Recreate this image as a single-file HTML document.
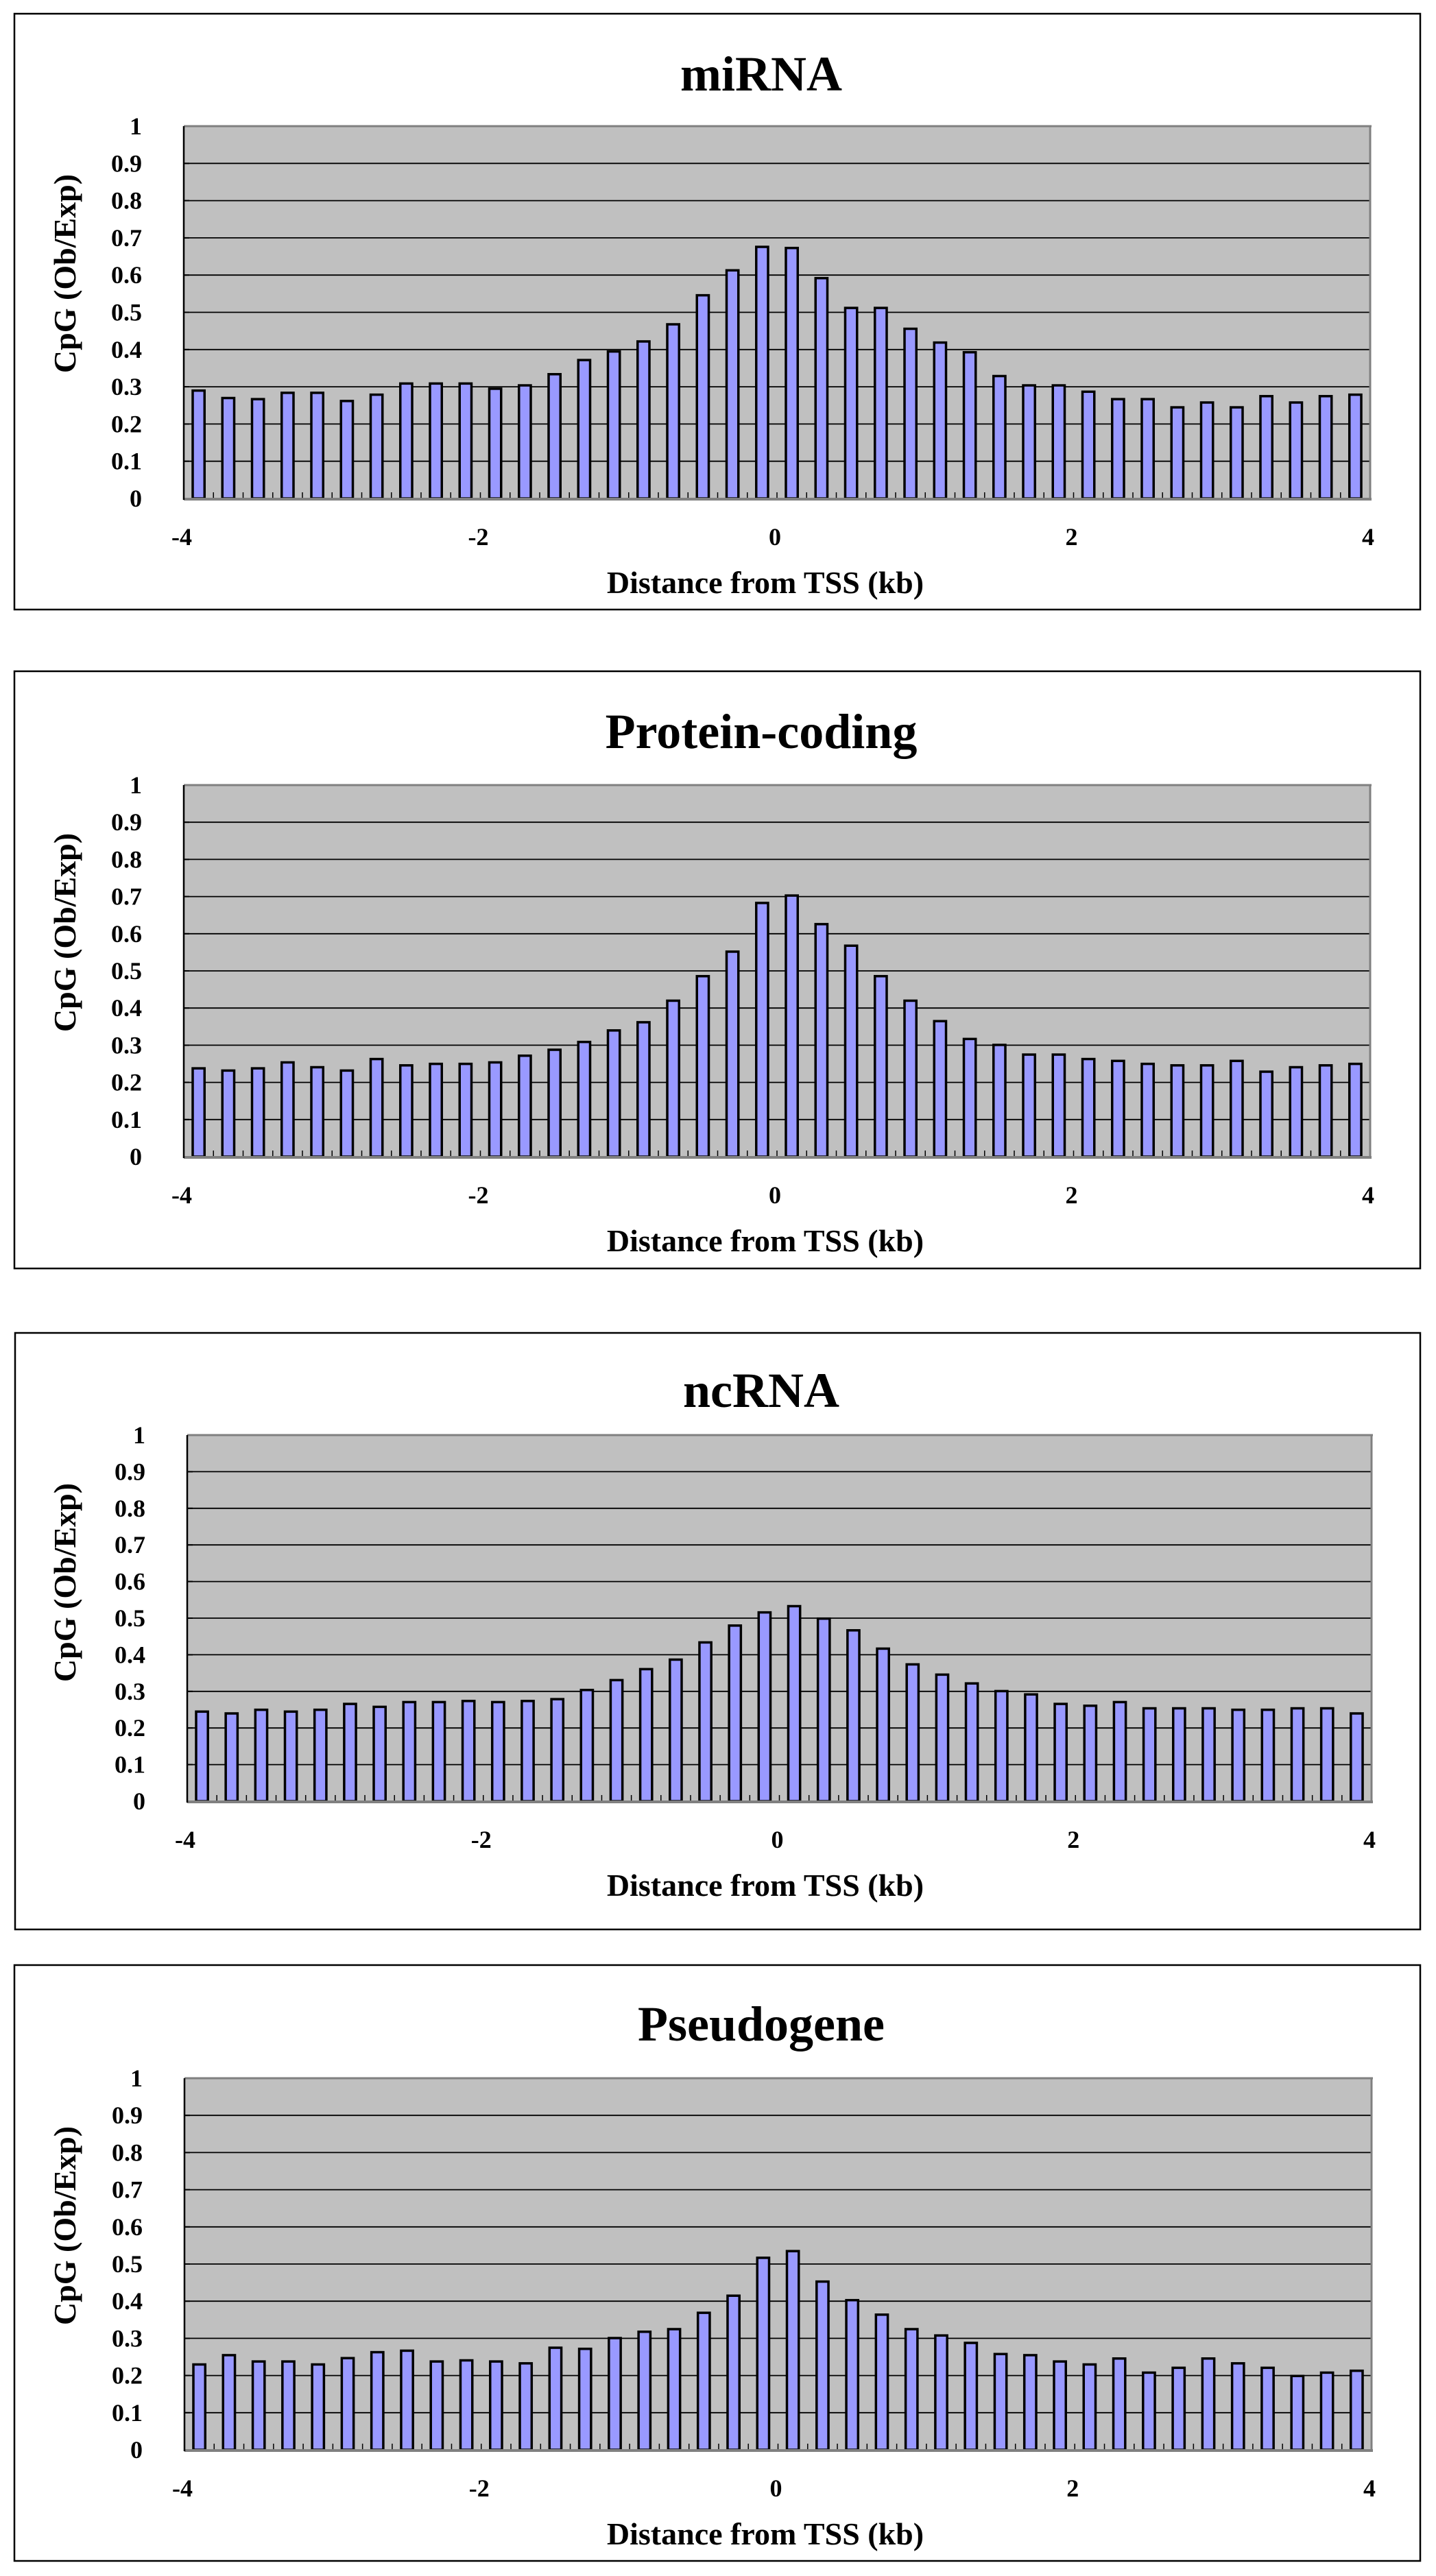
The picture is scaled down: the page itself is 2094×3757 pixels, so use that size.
<!DOCTYPE html>
<html>
<head>
<meta charset="utf-8">
<style>
  html, body { margin: 0; padding: 0; background: #ffffff; }
  svg { display: block; }
  text { font-family: "Liberation Serif", "Times New Roman", serif; font-weight: bold; fill: #000; }
</style>
</head>
<body>
<svg id="chart" xmlns="http://www.w3.org/2000/svg" width="2094" height="3757" viewBox="0 0 2094 3757"></svg>
<script>
// ---- data ----
const panelTitles = ["miRNA", "Protein-coding", "ncRNA", "Pseudogene"];
const xTickLabels = ["-4", "-2", "0", "2", "4"];
const yTickLabels = ["0", "0.1", "0.2", "0.3", "0.4", "0.5", "0.6", "0.7", "0.8", "0.9", "1"];
const mirnaValues = [0.293,0.273,0.270,0.287,0.287,0.265,0.282,0.312,0.312,0.312,0.298,0.307,0.337,0.375,0.398,0.425,0.471,0.549,0.616,0.679,0.676,0.595,0.515,0.515,0.459,0.422,0.396,0.332,0.307,0.307,0.290,0.270,0.270,0.248,0.261,0.248,0.278,0.261,0.278,0.282];
const proteinCodingValues = [0.241,0.235,0.241,0.257,0.244,0.235,0.266,0.249,0.253,0.253,0.257,0.275,0.291,0.312,0.343,0.365,0.423,0.489,0.555,0.686,0.706,0.629,0.571,0.489,0.423,0.368,0.320,0.304,0.278,0.278,0.266,0.261,0.253,0.249,0.249,0.261,0.232,0.244,0.249,0.253];
const ncrnaValues = [0.248,0.243,0.253,0.248,0.253,0.269,0.261,0.274,0.274,0.277,0.274,0.277,0.282,0.307,0.334,0.364,0.390,0.437,0.483,0.519,0.536,0.502,0.470,0.420,0.377,0.349,0.325,0.304,0.295,0.269,0.264,0.274,0.257,0.257,0.257,0.253,0.253,0.257,0.257,0.243];
const pseudogeneValues = [0.233,0.258,0.241,0.241,0.233,0.250,0.266,0.270,0.241,0.244,0.241,0.236,0.278,0.275,0.304,0.321,0.328,0.372,0.418,0.520,0.538,0.456,0.406,0.367,0.328,0.311,0.291,0.261,0.258,0.241,0.233,0.249,0.211,0.224,0.249,0.236,0.224,0.202,0.211,0.216];
const seriesList = [mirnaValues, proteinCodingValues, ncrnaValues, pseudogeneValues];
const yMax = 1;

// ---- layout (not data) ----
const layouts = [
  {box:[21,20,2071,889],   plot:[268,184,1998,727],  titleY:132},
  {box:[21,979,2071,1850], plot:[268,1145,1998,1687], titleY:1091},
  {box:[22,1944,2071,2814],plot:[273,2093,2000,2627], titleY:2052},
  {box:[21,2866,2071,3735],plot:[269,3031,2000,3573], titleY:2976}
];
const NS = "http://www.w3.org/2000/svg";
const svg = document.getElementById("chart");
function mk(tag, attrs, parent) {
  const e = document.createElementNS(NS, tag);
  for (const k in attrs) e.setAttribute(k, attrs[k]);
  parent.appendChild(e);
  return e;
}
const slug = ["mirna", "protein-coding", "ncrna", "pseudogene"];

layouts.forEach((L, p) => {
  const vals = seriesList[p];
  const [bx0, by0, bx1, by1] = L.box;
  const [px0, py0, px1, py1] = L.plot;
  const n = vals.length;
  const pitch = (px1 - px0) / n;
  const yScale = v => py1 - (v / yMax) * (py1 - py0);
  const xBand = i => px0 + i * pitch;

  const g = mk("g", {}, svg);
  
  

  const box = mk("rect", {x:bx0, y:by0, width:bx1-bx0, height:by1-by0, fill:"#fff", stroke:"#000", "stroke-width":2.5}, g);
  
  

  const title = mk("text", {x:1110, y:L.titleY, "text-anchor":"middle", "font-size":72}, g);
  title.textContent = panelTitles[p];
  
  

  const bg = mk("rect", {x:px0, y:py0, width:px1-px0, height:py1-py0, fill:"#C0C0C0"}, g);
  
  

  yTickLabels.forEach((lab, k) => {
    const v = parseFloat(lab);
    const y = yScale(v);
    if (v > 0 && v < yMax) {
      const gl = mk("line", {x1:px0, x2:px1, y1:y, y2:y, stroke:"#000", "stroke-width":1.8}, g);
      
      
      const tk = mk("line", {x1:px0, x2:px0+8, y1:y, y2:y, stroke:"#000", "stroke-width":2}, g);
      
      
    }
    const t = mk("text", {x:px0-61, y:y+12, "text-anchor":"end", "font-size":36}, g);
    t.textContent = lab;
    
    
  });

  const bw = pitch * 0.48;
  vals.forEach((v, i) => {
    const cx = xBand(i) + pitch / 2;
    const y = yScale(v);
    const r = mk("rect", {x:cx-bw/2+1.75, y:y+1.75, width:bw-3.5, height:py1-y-1.75, fill:"#9999FF", stroke:"#000", "stroke-width":3.5}, g);
    
    
  });

  for (let i = 1; i < n; i++) {
    const x = xBand(i);
    const tk = mk("line", {x1:x, x2:x, y1:py1, y2:py1-9, stroke:"#000", "stroke-width":1.5}, g);
    
    
  }

  const top = mk("line", {x1:px0, x2:px1+2, y1:py0, y2:py0, stroke:"#808080", "stroke-width":3}, g);
  
  
  const right = mk("line", {x1:px1, x2:px1, y1:py0, y2:py1, stroke:"#808080", "stroke-width":3}, g);
  
  
  const xAxis = mk("line", {x1:px0, x2:px1+2, y1:py1+1, y2:py1+1, stroke:"#808080", "stroke-width":4}, g);
  
  
  const yAxis = mk("line", {x1:px0, x2:px0, y1:py0, y2:py1+2, stroke:"#000", "stroke-width":2.5}, g);
  
  

  xTickLabels.forEach((lab, k) => {
    const x = px0 + k * (px1 - px0) / (xTickLabels.length - 1);
    const t = mk("text", {x:x-3, y:py1+68, "text-anchor":"middle", "font-size":36}, g);
    t.textContent = lab;
    
    
  });

  const xt = mk("text", {x:1116, y:py1+138, "text-anchor":"middle", "font-size":46}, g);
  xt.textContent = "Distance from TSS (kb)";
  
  

  const ycy = py0 + 215;
  const yt = mk("text", {x:0, y:0, "text-anchor":"middle", "font-size":46, transform:"translate(110," + ycy + ") rotate(-90)"}, g);
  yt.textContent = "CpG (Ob/Exp)";
  
  
});
</script>
</body>
</html>
